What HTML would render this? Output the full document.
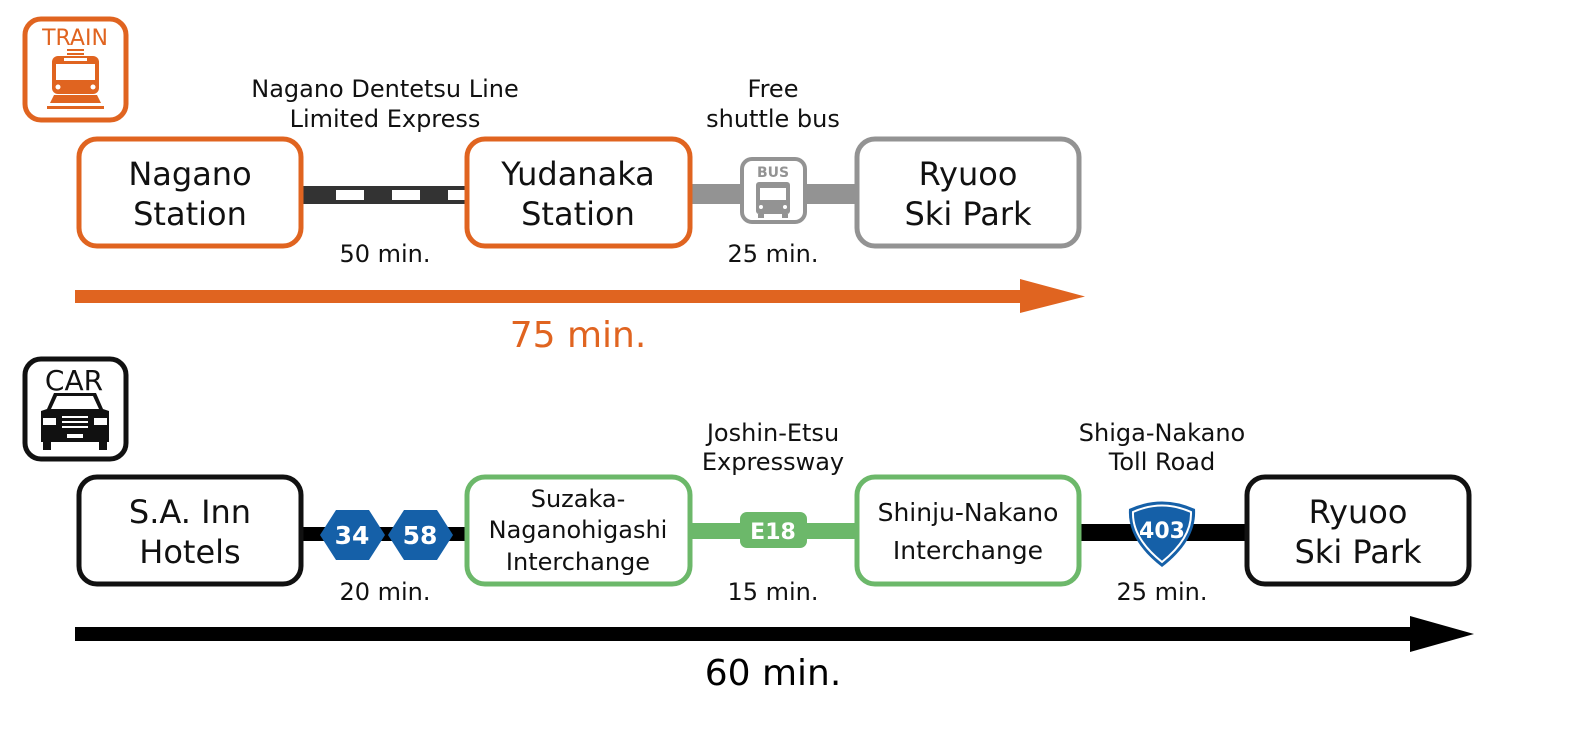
<!DOCTYPE html>
<html><head><meta charset="utf-8"><style>
html,body{margin:0;padding:0;background:#fff}
svg{display:block}
text{font-family:"DejaVu Sans","Liberation Sans",sans-serif}
</style></head><body>
<svg width="1596" height="734" viewBox="0 0 1596 734" xmlns="http://www.w3.org/2000/svg">
<!-- TRAIN icon -->
<rect x="25" y="19" width="101" height="101" rx="16" fill="none" stroke="#e06420" stroke-width="5"/>
<text x="75" y="45" font-family="Liberation Sans" font-size="22" fill="#e06420" text-anchor="middle">TRAIN</text>
<rect x="67" y="49" width="17" height="2" fill="#e06420"/><rect x="67" y="53" width="17" height="2" fill="#e06420"/>
<rect x="52" y="56" width="47" height="38" rx="6" fill="#e06420"/>
<rect x="56" y="64" width="39" height="16" fill="#fff"/>
<rect x="64" y="58" width="23" height="3" fill="#fff"/>
<circle cx="58" cy="87" r="2.5" fill="#fff"/><circle cx="93" cy="87" r="2.5" fill="#fff"/>
<path d="M50 103 L101 103 L97 95 L54 95 Z" fill="#e06420"/>
<rect x="47" y="106" width="57" height="3" fill="#e06420"/>
<!-- train row lines -->
<rect x="303" y="186" width="162" height="18" fill="#333"/>
<rect x="336" y="190" width="28" height="10" fill="#fff"/>
<rect x="392" y="190" width="28" height="10" fill="#fff"/>
<rect x="448" y="190" width="17" height="10" fill="#fff"/>
<rect x="692" y="184" width="163" height="20" fill="#939393"/>
<rect x="742" y="159" width="63" height="63" rx="10" fill="#fff" stroke="#939393" stroke-width="4"/>
<text x="773" y="177" font-family="Liberation Sans" font-size="14" font-weight="bold" fill="#939393" text-anchor="middle">BUS</text>
<rect x="756" y="182" width="34" height="32" rx="3" fill="#939393"/>
<rect x="760" y="188" width="26" height="12" fill="#fff"/>
<circle cx="761" cy="207" r="2" fill="#fff"/><circle cx="785" cy="207" r="2" fill="#fff"/>
<rect x="758" y="214" width="6" height="4" fill="#939393"/><rect x="782" y="214" width="6" height="4" fill="#939393"/>
<!-- train boxes -->
<rect x="79" y="139" width="222" height="107" rx="18" fill="#fff" stroke="#e06420" stroke-width="5"/>
<rect x="467" y="139" width="223" height="107" rx="18" fill="#fff" stroke="#e06420" stroke-width="5"/>
<rect x="857" y="139" width="222" height="107" rx="18" fill="#fff" stroke="#939393" stroke-width="5"/>
<g font-size="32" text-anchor="middle" fill="#111">
<text x="190" y="185">Nagano</text><text x="190" y="225">Station</text>
<text x="578" y="185">Yudanaka</text><text x="578" y="225">Station</text>
<text x="968" y="185">Ryuoo</text><text x="968" y="225">Ski Park</text>
</g>
<g font-size="24" text-anchor="middle" fill="#111">
<text x="385" y="97">Nagano Dentetsu Line</text><text x="385" y="127">Limited Express</text>
<text x="773" y="97">Free</text><text x="773" y="127">shuttle bus</text>
<text x="385" y="262">50 min.</text><text x="773" y="262">25 min.</text>
</g>
<rect x="75" y="290" width="950" height="13" fill="#e06420"/>
<path d="M1020 279 L1085 296.5 L1020 313 Z" fill="#e06420"/>
<text x="578" y="347" font-size="36" text-anchor="middle" fill="#e06420">75 min.</text>
<!-- CAR icon -->
<rect x="25" y="359" width="101" height="100" rx="16" fill="none" stroke="#111" stroke-width="5"/>
<text x="74" y="390" font-family="Liberation Sans" font-size="28" fill="#111" text-anchor="middle">CAR</text>
<path d="M54 393 L96 393 L103 409 L109 411 L109 442 L41 442 L41 411 L47 409 Z" fill="#111"/>
<path d="M57 396 L93 396 L99 409 L51 409 Z" fill="#fff"/>
<rect x="43" y="418" width="13" height="7" fill="#fff"/><rect x="94" y="418" width="13" height="7" fill="#fff"/>
<rect x="62" y="416" width="26" height="2" fill="#fff"/><rect x="62" y="421" width="26" height="2" fill="#fff"/><rect x="62" y="426" width="26" height="2" fill="#fff"/>
<rect x="67" y="434" width="16" height="4" fill="#fff"/>
<rect x="43" y="442" width="8" height="8" fill="#111"/><rect x="99" y="442" width="8" height="8" fill="#111"/>
<!-- car row lines -->
<rect x="303" y="527" width="162" height="14" fill="#000"/>
<path d="M336 510 L369 510 L385 535 L369 560 L336 560 L320 535 Z" fill="#1560a8"/>
<path d="M404 510 L437 510 L453 535 L437 560 L404 560 L388 535 Z" fill="#1560a8"/>
<text x="352" y="544" font-family="Liberation Sans" font-size="25" font-weight="bold" fill="#fff" text-anchor="middle">34</text>
<text x="420" y="544" font-family="Liberation Sans" font-size="25" font-weight="bold" fill="#fff" text-anchor="middle">58</text>
<rect x="692" y="523" width="163" height="16" fill="#6cb86a"/>
<rect x="740" y="512" width="67" height="36" rx="7" fill="#6cb86a"/>
<text x="773" y="539" font-family="Liberation Sans" font-size="22" font-weight="bold" fill="#fff" text-anchor="middle">E18</text>
<rect x="1081" y="524" width="164" height="17" fill="#000"/>
<path d="M1129 509 Q1162 494 1195 509 Q1197 540 1162 567 Q1127 540 1129 509 Z" fill="#1560a8"/>
<path d="M1133 512 Q1162 499 1191 512 Q1192 538 1162 562 Q1132 538 1133 512 Z" fill="none" stroke="#fff" stroke-width="2"/>
<text x="1162" y="538" font-family="Liberation Sans" font-size="22" font-weight="bold" fill="#fff" text-anchor="middle">403</text>
<!-- car boxes -->
<rect x="79" y="477" width="222" height="107" rx="18" fill="#fff" stroke="#111" stroke-width="5"/>
<rect x="467" y="477" width="223" height="107" rx="18" fill="#fff" stroke="#6cb86a" stroke-width="5"/>
<rect x="857" y="477" width="222" height="107" rx="18" fill="#fff" stroke="#6cb86a" stroke-width="5"/>
<rect x="1247" y="477" width="222" height="107" rx="18" fill="#fff" stroke="#111" stroke-width="5"/>
<g text-anchor="middle" fill="#111">
<text x="190" y="523" font-size="32">S.A. Inn</text><text x="190" y="563" font-size="32">Hotels</text>
<text x="578" y="507" font-size="24">Suzaka-</text><text x="578" y="538" font-size="24">Naganohigashi</text><text x="578" y="570" font-size="24">Interchange</text>
<text x="968" y="521" font-size="25">Shinju-Nakano</text><text x="968" y="559" font-size="25">Interchange</text>
<text x="1358" y="523" font-size="32">Ryuoo</text><text x="1358" y="563" font-size="32">Ski Park</text>
</g>
<g font-size="24" text-anchor="middle" fill="#111">
<text x="773" y="441">Joshin-Etsu</text><text x="773" y="470">Expressway</text>
<text x="1162" y="441">Shiga-Nakano</text><text x="1162" y="470">Toll Road</text>
<text x="385" y="600">20 min.</text><text x="773" y="600">15 min.</text><text x="1162" y="600">25 min.</text>
</g>
<rect x="75" y="627" width="1340" height="14" fill="#000"/>
<path d="M1410 616 L1474 634 L1410 652 Z" fill="#000"/>
<text x="773" y="685" font-size="36" text-anchor="middle" fill="#000">60 min.</text>
</svg>
</body></html>
